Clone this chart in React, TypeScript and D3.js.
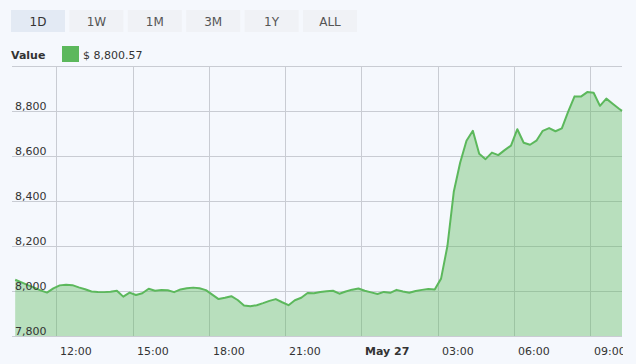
import React from "react";
import * as d3 from "d3";

const rangeButtons = ["1D", "1W", "1M", "3M", "1Y", "ALL"];
const selectedRange = "1D";
const seriesName = "Value";
const lastValueLabel = "$ 8,800.57";
const yTicks = [7800, 8000, 8200, 8400, 8600, 8800, 9000];
const yLabelTicks = [7800, 8000, 8200, 8400, 8600, 8800];

// 15-minute samples starting 26 May 10:23, plus the live point at 27 May 10:15
const values = [
  8050, 8038, 8026, 8015, 8003, 7993, 8012, 8025, 8028, 8026,
  8016, 8008, 7998, 7996, 7995, 7997, 8001, 7975, 7993, 7982,
  7990, 8010, 8001, 8004, 8003, 7995, 8007, 8012, 8015, 8012,
  8004, 7984, 7964, 7970, 7977, 7960, 7936, 7932, 7937, 7946,
  7956, 7964, 7950, 7937, 7959, 7970, 7991, 7990, 7996, 7999,
  8001, 7988, 7998, 8006, 8011, 8001, 7994, 7987, 7996, 7992,
  8005, 7998, 7992, 8000, 8005, 8009, 8007, 8055, 8200, 8441,
  8570, 8668, 8712, 8610, 8586, 8615, 8604, 8626, 8646, 8719,
  8659, 8650, 8668, 8712, 8724, 8710, 8723, 8797, 8865, 8864,
  8884, 8881, 8823, 8855, 8832, 8810, 8800.57,
];

const startTime = new Date(2019, 4, 26, 10, 23);
const endTime = new Date(2019, 4, 27, 10, 15);
const times: Date[] = values.map((_, i) =>
  i === values.length - 1 ? endTime : d3.timeMinute.offset(startTime, i * 15)
);
const data = values.map((v, i) => ({ t: times[i], v }));

const W = 636;
const H = 364;
const FONT = "'DejaVu Sans', Verdana, sans-serif";
const GREEN = "#5cb85c";

export default function App() {
  const left = 15.2;
  const right = 622;
  const top = 66;
  const bottom = 336;

  const x = d3.scaleTime().domain([startTime, endTime]).range([left, right]);
  const y = d3.scaleLinear().domain([7800, 9000]).range([bottom, top]);

  const area = d3
    .area<{ t: Date; v: number }>()
    .x((d) => x(d.t))
    .y0(bottom)
    .y1((d) => y(d.v));
  const line = d3
    .line<{ t: Date; v: number }>()
    .x((d) => x(d.t))
    .y((d) => y(d.v));

  const xTicks = x.ticks(d3.timeHour.every(3)!);
  const fmt = d3.timeFormat("%H:%M");

  return (
    <div
      style={{
        position: "fixed",
        left: 0,
        top: 0,
        width: W,
        height: H,
        background: "#f5f8fd",
      }}
    >
      <svg width={W} height={H} style={{ display: "block", fontFamily: FONT }}>
        <defs>
          <clipPath id="xlabclip">
            <rect x={0} y={bottom} width={right + 1} height={H - bottom} />
          </clipPath>
        </defs>
        {/* range buttons */}
        {rangeButtons.map((b, i) => {
          const bx = 11 + i * 58.4;
          const sel = b === selectedRange;
          return (
            <g key={b}>
              <rect
                x={bx}
                y={10}
                width={54}
                height={22}
                fill={sel ? "#e3eaf4" : "#f0f2f6"}
              />
              <text
                x={bx + 27}
                y={25.5}
                textAnchor="middle"
                fontSize={12}
                fill={sel ? "#333" : "#555"}
              >
                {b}
              </text>
            </g>
          );
        })}
        {/* legend */}
        <text x={11} y={59} fontSize={11} fontWeight="bold" fill="#333">
          {seriesName}
        </text>
        <rect x={62} y={46} width={17} height={16} fill={GREEN} />
        <text x={83} y={59} fontSize={11} fill="#333">
          {lastValueLabel}
        </text>

        {/* gridlines */}
        {yTicks.map((t) => (
          <line
            key={t}
            x1={12}
            x2={right}
            y1={Math.round(y(t)) + 0.5}
            y2={Math.round(y(t)) + 0.5}
            stroke="#c9ccd3"
          />
        ))}
        {xTicks.map((t) => (
          <line
            key={+t}
            x1={Math.round(x(t)) + 0.5}
            x2={Math.round(x(t)) + 0.5}
            y1={top}
            y2={bottom}
            stroke="#c9ccd3"
          />
        ))}

        {/* area & line */}
        <path d={area(data) || ""} fill={GREEN} fillOpacity={0.4} />
        <path
          d={line(data) || ""}
          fill="none"
          stroke={GREEN}
          strokeWidth={2}
          strokeLinejoin="round"
        />

        {/* y labels */}
        {yLabelTicks.map((t) => (
          <text key={t} x={15} y={Math.round(y(t)) - 1.5} fontSize={11} fill="#333">
            {d3.format(",")(t)}
          </text>
        ))}

        {/* x labels */}
        <g clipPath="url(#xlabclip)">
          {xTicks.map((t) => {
            const midnight = t.getHours() === 0;
            return (
              <text
                key={+t}
                x={Math.round(x(t)) + 4}
                y={355}
                fontSize={11}
                fill="#333"
                fontWeight={midnight ? "bold" : "normal"}
              >
                {midnight ? d3.timeFormat("%b %-d")(t) : fmt(t)}
              </text>
            );
          })}
        </g>
      </svg>
    </div>
  );
}
